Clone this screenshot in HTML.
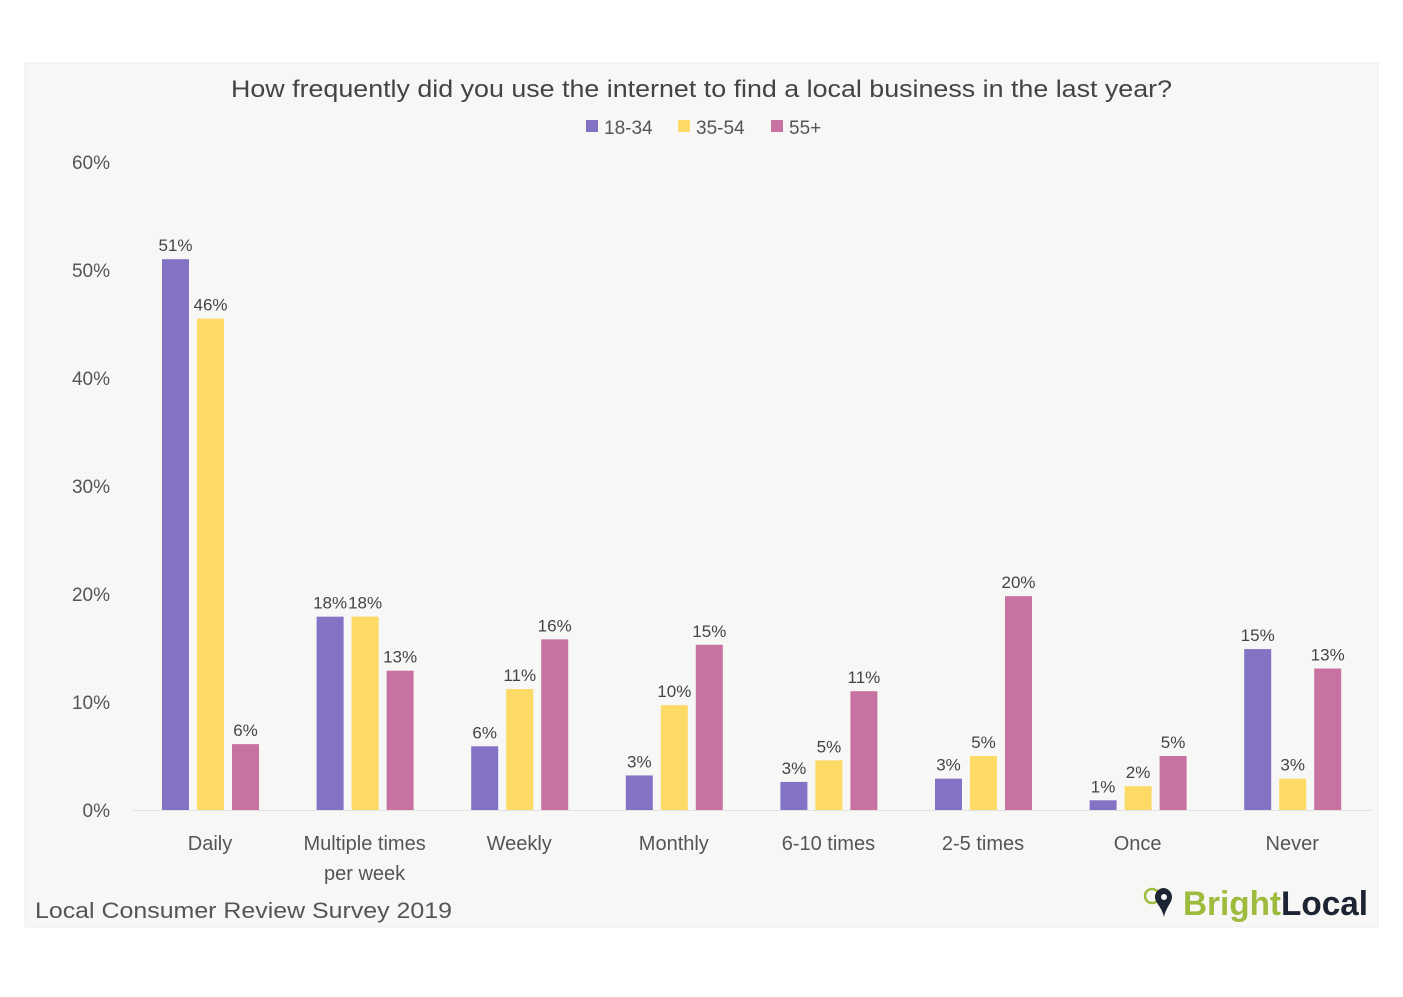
<!DOCTYPE html>
<html><head><meta charset="utf-8"><style>
body{margin:0;background:#fff;width:1403px;height:992px;overflow:hidden;font-family:"Liberation Sans",sans-serif}
</style></head><body>
<svg id="chart" width="1403" height="992" xmlns="http://www.w3.org/2000/svg" font-family="Liberation Sans, sans-serif">
<rect x="25" y="63" width="1353" height="864" fill="#f7f7f6" stroke="#ececec"/>
<text x="231" y="97" textLength="941" lengthAdjust="spacingAndGlyphs" font-size="24" fill="#444">How frequently did you use the internet to find a local business in the last year?</text>
<g font-size="19" fill="#555">
<rect x="586" y="120" width="12" height="12" fill="#8472c4"/>
<text x="604" y="134">18-34</text>
<rect x="678" y="120" width="12" height="12" fill="#fdd966"/>
<text x="696" y="134">35-54</text>
<rect x="771" y="120" width="12" height="12" fill="#c872a2"/>
<text x="789" y="134">55+</text>
</g>
<line x1="133" y1="810.5" x2="1372" y2="810.5" stroke="#e2e2e2"/>
<g id="yticks"></g><g id="bars"></g><g id="xlabels"></g>
<text x="35" y="918" textLength="417" lengthAdjust="spacingAndGlyphs" font-size="22" fill="#555">Local Consumer Review Survey 2019</text>
<g>
<circle cx="1152" cy="896" r="7" fill="none" stroke="#9dbb3c" stroke-width="2.5"/>
<path d="M1163 888 a9 9 0 0 1 9 9 c0 6-6 10-8 20 c-2-10-9-14-9-20 a9 9 0 0 1 8-9z" fill="#1d2433"/>
<circle cx="1164" cy="897" r="3" fill="#f7f7f6"/>
<text x="1183" y="915" textLength="185" lengthAdjust="spacingAndGlyphs" font-size="34" font-weight="bold"><tspan fill="#9dbb3c">Bright</tspan><tspan fill="#1d2433">Local</tspan></text>
</g>
</svg>
<script>
const categories=["Daily","Multiple times|per week","Weekly","Monthly","6-10 times","2-5 times","Once","Never"];
const s1834=[51,17.9,5.9,3.2,2.6,2.9,0.9,14.9];
const s3554=[45.5,17.9,11.2,9.7,4.6,5,2.2,2.9];
const s55=[6.1,12.9,15.8,15.3,11,19.8,5,13.1];
const yTicks=[0,10,20,30,40,50,60];
const series=[{name:"18-34",vals:s1834,color:"#8472c4"},{name:"35-54",vals:s3554,color:"#fdd966"},{name:"55-plus",vals:s55,color:"#c872a2"}];
const NS="http://www.w3.org/2000/svg";
const y=v=>810-v*10.8;
const xc=i=>210+i*154.6;
function mk(tag,attrs,parent,text){const e=document.createElementNS(NS,tag);for(const k in attrs)e.setAttribute(k,attrs[k]);if(text!=null)e.textContent=text;parent.appendChild(e);return e;}
const yt=document.getElementById('yticks');
yTicks.forEach(t=>{const e=mk('text',{x:110,y:y(t)+7,'text-anchor':'end','font-size':19,fill:'#555'},yt,t+'%');

});
const bg=document.getElementById('bars');
series.forEach((s,si)=>{s.vals.forEach((v,i)=>{const x=xc(i)-48+si*35;
const r=mk('rect',{x:x,y:y(v),width:27,height:810-y(v),fill:s.color},bg);


const t=mk('text',{x:x+13.5,y:y(v)-8,'text-anchor':'middle','font-size':17,fill:'#444'},bg,Math.round(v)+'%');

});});
const xl=document.getElementById('xlabels');
categories.forEach((c,i)=>{c.split('|').forEach((ln,j)=>{const t=mk('text',{x:xc(i),y:850+j*30,'text-anchor':'middle','font-size':20,fill:'#555'},xl,ln);

});});
</script>
</body></html>
